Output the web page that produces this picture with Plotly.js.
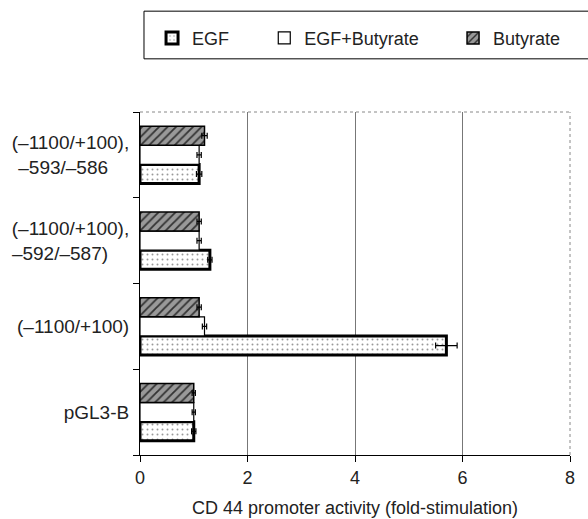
<!DOCTYPE html>
<html>
<head>
<meta charset="utf-8">
<script src="https://cdn.plot.ly/plotly-3.0.1.min.js"></script>
<style>html,body{margin:0;padding:0;background:#fff}</style>
</head>
<body>
<div id="chart" style="width:588px;height:519px"></div>
<script>
const categories = ['pGL3-B', '(\u20131100/+100)', '(\u20131100/+100),<br>\u2013592/\u2013587)', '(\u20131100/+100),<br>\u2013593/\u2013586'];
const egf = [1.0, 5.7, 1.3, 1.1];
const egfErr = [0.04, 0.2, 0.04, 0.05];
const egfBut = [1.0, 1.2, 1.1, 1.1];
const egfButErr = [0.03, 0.04, 0.04, 0.04];
const but = [1.0, 1.1, 1.1, 1.2];
const butErr = [0.03, 0.04, 0.04, 0.05];
const xTicks = [0, 2, 4, 6, 8];
const xTitle = 'CD 44 promoter activity (fold-stimulation)';

// centre the second line of two-line labels (Plotly right-aligns lines)
const tickText = categories.map(c => c.includes('<br>') ? c + '\u00a0\u00a0\u00a0\u00a0' : c);

const font = {family: 'Liberation Sans, Arial, sans-serif', size: 18, color: '#222'};
const yFont = {family: 'Liberation Sans, Arial, sans-serif', size: 19, color: '#222'};
const errStyle = {type: 'data', visible: true, color: '#000', thickness: 1.2, width: 3};

const traces = [
  {type: 'bar', orientation: 'h', name: 'EGF', y: categories, x: egf,
   error_x: Object.assign({array: egfErr}, errStyle),
   marker: {color: '#fff', line: {color: '#000', width: 3},
            pattern: {shape: '.', fgcolor: '#999', bgcolor: '#fff', size: 5, solidity: 0.12}},
   legend: 'legend'},
  {type: 'bar', orientation: 'h', name: 'EGF+Butyrate', y: categories, x: egfBut,
   error_x: Object.assign({array: egfButErr}, errStyle),
   marker: {color: '#fff', line: {color: '#000', width: 1.2}},
   legend: 'legend2'},
  {type: 'bar', orientation: 'h', name: 'Butyrate', y: categories, x: but,
   error_x: Object.assign({array: butErr}, errStyle),
   marker: {color: '#777', line: {color: '#000', width: 1.5},
            pattern: {shape: '/', fgcolor: '#333', bgcolor: '#999', size: 6, solidity: 0.3}},
   legend: 'legend3'}
];

const legBase = {orientation: 'h', yanchor: 'middle', y: 1.215, xanchor: 'left',
  bgcolor: 'rgba(0,0,0,0)', borderwidth: 0, font: font, itemwidth: 30};

const layout = {
  width: 588, height: 519,
  margin: {l: 140, r: 18, t: 112, b: 64},
  paper_bgcolor: '#fff', plot_bgcolor: '#fff',
  font: font,
  barmode: 'group', bargap: 0.33, bargroupgap: 0,
  showlegend: true,
  legend: Object.assign({}, legBase, {x: 0.028}),
  legend2: Object.assign({}, legBase, {x: 0.289}),
  legend3: Object.assign({}, legBase, {x: 0.728}),
  xaxis: {range: [0, 8], tickvals: xTicks, ticks: 'outside', ticklen: 6, tickcolor: '#000',
          showline: true, linecolor: '#000', linewidth: 1,
          showgrid: true, gridcolor: '#777', gridwidth: 1, zeroline: false,
          tickfont: font,
          title: {text: xTitle, font: font, standoff: 14}},
  yaxis: {type: 'category', categoryorder: 'array', categoryarray: categories,
          tickvals: categories, ticktext: tickText,
          tickson: 'boundaries', ticks: 'outside', ticklen: 6, tickcolor: '#000',
          showline: true, linecolor: '#000', linewidth: 1, showgrid: false,
          tickfont: yFont, ticklabelstandoff: 6},
  shapes: [
    {type: 'line', xref: 'paper', yref: 'paper', x0: 0, x1: 1, y0: 1, y1: 1,
     line: {color: '#888', width: 1, dash: 'dot'}},
    {type: 'line', xref: 'paper', yref: 'paper', x0: 1, x1: 1, y0: 0, y1: 1,
     line: {color: '#888', width: 1, dash: 'dot'}},
    {type: 'rect', xref: 'paper', yref: 'paper', x0: 0.0093, x1: 1.2, y0: 1.155, y1: 1.294,
     line: {color: '#000', width: 1}, fillcolor: 'rgba(0,0,0,0)'}
  ]
};

Plotly.newPlot('chart', traces, layout, {displayModeBar: false, staticPlot: true});
</script>
</body>
</html>
